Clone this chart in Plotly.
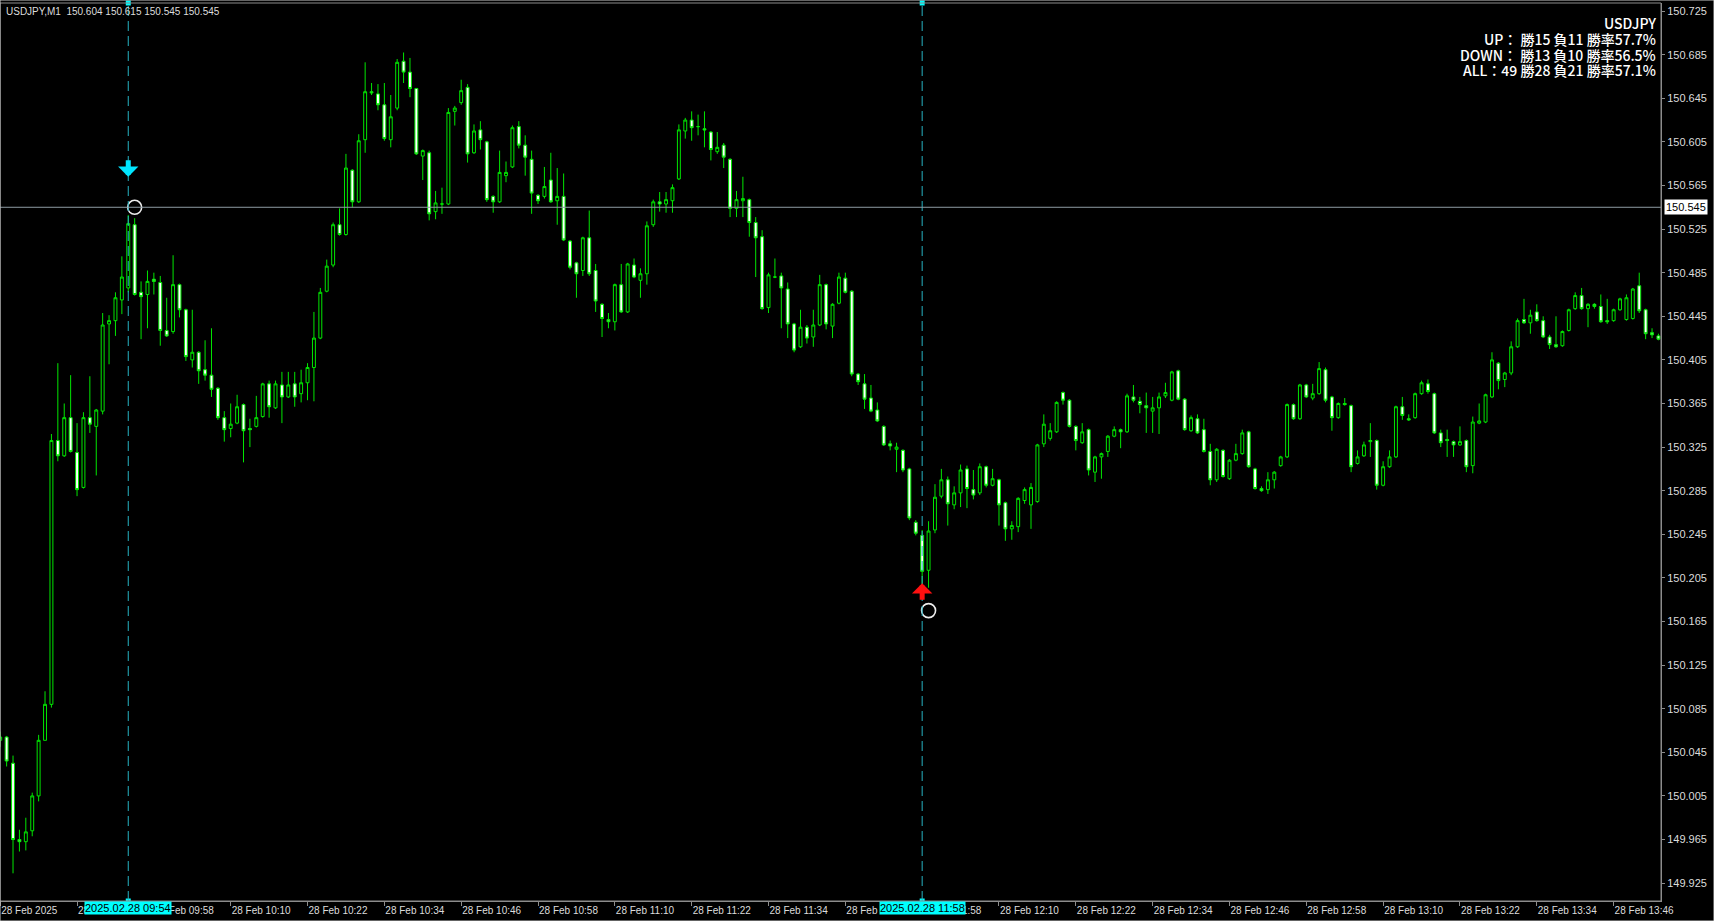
import pandas as pd
import plotly.graph_objects as go

# ---------------- data ----------------
symbol = "USDJPY"
timeframe = "M1"
start_time = "2025-02-28 09:34"
header_values = ["150.604", "150.615", "150.545", "150.545"]

open_ = [150.056, 150.059, 150.035, 149.965, 149.963, 149.973, 150.005, 150.056, 150.089, 150.331,
         150.317, 150.352, 150.320, 150.288, 150.352, 150.344, 150.358, 150.438, 150.441, 150.460,
         150.471, 150.529, 150.467, 150.465, 150.479, 150.476, 150.432, 150.431, 150.474, 150.451,
         150.405, 150.412, 150.396, 150.391, 150.379, 150.352, 150.342, 150.347, 150.364, 150.342,
         150.344, 150.353, 150.383, 150.361, 150.382, 150.371, 150.383, 150.374, 150.384, 150.398,
         150.425, 150.468, 150.492, 150.529, 150.520, 150.579, 150.550, 150.607, 150.651, 150.649,
         150.639, 150.607, 150.636, 150.679, 150.669, 150.654, 150.592, 150.595, 150.541, 150.548,
         150.548, 150.633, 150.641, 150.655, 150.595, 150.616, 150.605, 150.555, 150.550, 150.574,
         150.582, 150.619, 150.602, 150.589, 150.556, 150.555, 150.570, 150.551, 150.555, 150.514,
         150.494, 150.487, 150.517, 150.487, 150.456, 150.442, 150.440, 150.474, 150.449, 150.492,
         150.478, 150.484, 150.529, 150.550, 150.548, 150.551, 150.571, 150.615, 150.625, 150.619,
         150.617, 150.614, 150.596, 150.602, 150.589, 150.544, 150.551, 150.552, 150.531, 150.518,
         150.453, 150.481, 150.482, 150.470, 150.438, 150.417, 150.435, 150.426, 150.437, 150.474,
         150.436, 150.457, 150.480, 150.468, 150.392, 150.383, 150.370, 150.359, 150.344, 150.328,
         150.323, 150.322, 150.305, 150.256, 150.244, 150.212, 150.249, 150.280, 150.295, 150.272,
         150.283, 150.305, 150.286, 150.283, 150.307, 150.290, 150.295, 150.274, 150.250, 150.252,
         150.276, 150.272, 150.275, 150.328, 150.333, 150.339, 150.375, 150.368, 150.344, 150.329,
         150.341, 150.302, 150.316, 150.321, 150.335, 150.341, 150.339, 150.371, 150.367, 150.363,
         150.358, 150.361, 150.372, 150.368, 150.395, 150.369, 150.340, 150.351, 150.341, 150.321,
         150.295, 150.322, 150.296, 150.313, 150.319, 150.339, 150.305, 150.287, 150.286, 150.295,
         150.308, 150.316, 150.364, 150.351, 150.382, 150.370, 150.374, 150.396, 150.371, 150.352,
         150.365, 150.363, 150.310, 150.317, 150.330, 150.331, 150.290, 150.307, 150.316, 150.362,
         150.351, 150.352, 150.374, 150.383, 150.374, 150.338, 150.332, 150.330, 150.327, 150.331,
         150.308, 150.347, 150.348, 150.371, 150.402, 150.387, 150.393, 150.417, 150.442, 150.439,
         150.449, 150.441, 150.426, 150.419, 150.418, 150.432, 150.452, 150.464, 150.452, 150.456,
         150.454, 150.441, 150.441, 150.451, 150.442, 150.443, 150.473, 150.451, 150.430, 150.427]

high = [150.064, 150.060, 150.042, 149.974, 149.985, 150.008, 150.061, 150.101, 150.337, 150.402,
        150.365, 150.391, 150.347, 150.357, 150.390, 150.360, 150.448, 150.446, 150.467, 150.500,
        150.538, 150.535, 150.477, 150.487, 150.485, 150.482, 150.462, 150.501, 150.475, 150.452,
        150.451, 150.413, 150.423, 150.434, 150.380, 150.358, 150.365, 150.373, 150.365, 150.351,
        150.372, 150.384, 150.386, 150.386, 150.394, 150.394, 150.394, 150.396, 150.402, 150.449,
        150.471, 150.497, 150.531, 150.544, 150.594, 150.580, 150.612, 150.678, 150.659, 150.658,
        150.659, 150.648, 150.681, 150.687, 150.682, 150.654, 150.598, 150.597, 150.560, 150.563,
        150.636, 150.638, 150.662, 150.658, 150.621, 150.624, 150.606, 150.556, 150.597, 150.587,
        150.620, 150.624, 150.611, 150.597, 150.557, 150.582, 150.595, 150.581, 150.576, 150.515,
        150.495, 150.518, 150.542, 150.493, 150.457, 150.448, 150.475, 150.493, 150.494, 150.498,
        150.489, 150.532, 150.552, 150.559, 150.559, 150.566, 150.621, 150.627, 150.633, 150.630,
        150.633, 150.615, 150.614, 150.604, 150.590, 150.560, 150.573, 150.553, 150.536, 150.524,
        150.485, 150.498, 150.485, 150.476, 150.439, 150.451, 150.437, 150.451, 150.483, 150.475,
        150.457, 150.485, 150.485, 150.469, 150.393, 150.392, 150.382, 150.366, 150.345, 150.331,
        150.329, 150.323, 150.306, 150.258, 150.249, 150.257, 150.291, 150.305, 150.298, 150.289,
        150.309, 150.308, 150.304, 150.310, 150.308, 150.305, 150.296, 150.275, 150.257, 150.279,
        150.288, 150.292, 150.328, 150.355, 150.347, 150.367, 150.376, 150.369, 150.345, 150.347,
        150.342, 150.317, 150.320, 150.336, 150.344, 150.342, 150.374, 150.382, 150.371, 150.375,
        150.371, 150.375, 150.384, 150.395, 150.396, 150.370, 150.354, 150.355, 150.351, 150.328,
        150.324, 150.323, 150.314, 150.328, 150.341, 150.340, 150.306, 150.289, 150.302, 150.303,
        150.317, 150.365, 150.365, 150.383, 150.383, 150.383, 150.403, 150.398, 150.372, 150.366,
        150.370, 150.364, 150.322, 150.330, 150.347, 150.332, 150.312, 150.322, 150.363, 150.371,
        150.355, 150.375, 150.386, 150.387, 150.375, 150.341, 150.341, 150.331, 150.344, 150.332,
        150.353, 150.365, 150.374, 150.412, 150.403, 150.394, 150.422, 150.443, 150.461, 150.451,
        150.456, 150.445, 150.428, 150.445, 150.432, 150.452, 150.467, 150.471, 150.457, 150.457,
        150.465, 150.461, 150.452, 150.462, 150.465, 150.471, 150.485, 150.452, 150.434, 150.429]

low = [150.050, 150.032, 149.934, 149.954, 149.955, 149.968, 150.000, 150.056, 150.086, 150.312,
       150.316, 150.320, 150.280, 150.287, 150.338, 150.299, 150.355, 150.401, 150.427, 150.447,
       150.467, 150.464, 150.424, 150.434, 150.465, 150.418, 150.426, 150.429, 150.444, 150.404,
       150.398, 150.383, 150.386, 150.371, 150.350, 150.330, 150.334, 150.346, 150.311, 150.325,
       150.343, 150.352, 150.352, 150.360, 150.347, 150.370, 150.362, 150.366, 150.368, 150.367,
       150.424, 150.467, 150.490, 150.519, 150.519, 150.545, 150.549, 150.595, 150.648, 150.634,
       150.606, 150.600, 150.634, 150.659, 150.646, 150.593, 150.570, 150.533, 150.534, 150.539,
       150.547, 150.620, 150.639, 150.586, 150.594, 150.598, 150.550, 150.540, 150.549, 150.568,
       150.581, 150.599, 150.574, 150.539, 150.548, 150.553, 150.549, 150.529, 150.514, 150.488,
       150.462, 150.482, 150.482, 150.449, 150.426, 150.434, 150.432, 150.448, 150.448, 150.480,
       150.462, 150.474, 150.527, 150.541, 150.540, 150.540, 150.570, 150.608, 150.606, 150.611,
       150.600, 150.588, 150.594, 150.581, 150.536, 150.536, 150.536, 150.518, 150.481, 150.451,
       150.448, 150.480, 150.434, 150.425, 150.412, 150.416, 150.420, 150.417, 150.436, 150.433,
       150.425, 150.456, 150.466, 150.390, 150.382, 150.360, 150.357, 150.348, 150.326, 150.322,
       150.302, 150.302, 150.258, 150.244, 150.198, 150.196, 150.246, 150.278, 150.253, 150.268,
       150.270, 150.269, 150.277, 150.281, 150.288, 150.289, 150.253, 150.239, 150.240, 150.247,
       150.273, 150.250, 150.274, 150.325, 150.331, 150.338, 150.364, 150.343, 150.322, 150.328,
       150.299, 150.293, 150.296, 150.316, 150.334, 150.324, 150.338, 150.366, 150.356, 150.338,
       150.338, 150.337, 150.370, 150.367, 150.368, 150.340, 150.339, 150.337, 150.320, 150.290,
       150.293, 150.297, 150.295, 150.312, 150.318, 150.306, 150.286, 150.284, 150.282, 150.287,
       150.307, 150.315, 150.350, 150.350, 150.370, 150.368, 150.373, 150.366, 150.340, 150.351,
       150.363, 150.302, 150.309, 150.316, 150.316, 150.286, 150.289, 150.306, 150.315, 150.350,
       150.349, 150.351, 150.373, 150.374, 150.337, 150.325, 150.316, 150.316, 150.326, 150.302,
       150.301, 150.346, 150.347, 150.370, 150.378, 150.380, 150.391, 150.416, 150.438, 150.429,
       150.440, 150.425, 150.415, 150.416, 150.417, 150.431, 150.451, 150.451, 150.435, 150.452,
       150.439, 150.438, 150.440, 150.450, 150.441, 150.442, 150.448, 150.424, 150.425, 150.423]

close = [150.059, 150.037, 149.965, 149.963, 149.972, 150.005, 150.056, 150.089, 150.331, 150.317,
         150.352, 150.321, 150.286, 150.352, 150.346, 150.359, 150.437, 150.441, 150.462, 150.481,
         150.530, 150.465, 150.463, 150.477, 150.477, 150.432, 150.427, 150.474, 150.451, 150.408,
         150.412, 150.395, 150.391, 150.378, 150.352, 150.341, 150.346, 150.362, 150.340, 150.341,
         150.352, 150.383, 150.362, 150.383, 150.371, 150.382, 150.371, 150.384, 150.398, 150.425,
         150.467, 150.491, 150.529, 150.520, 150.581, 150.550, 150.606, 150.651, 150.650, 150.639,
         150.608, 150.628, 150.678, 150.669, 150.654, 150.594, 150.597, 150.539, 150.549, 150.548,
         150.632, 150.636, 150.652, 150.594, 150.615, 150.607, 150.552, 150.550, 150.577, 150.577,
         150.618, 150.602, 150.591, 150.558, 150.551, 150.564, 150.550, 150.555, 150.515, 150.490,
         150.484, 150.517, 150.484, 150.459, 150.443, 150.440, 150.474, 150.449, 150.493, 150.481,
         150.484, 150.528, 150.550, 150.548, 150.552, 150.563, 150.616, 150.625, 150.618, 150.619,
         150.616, 150.598, 150.600, 150.591, 150.544, 150.552, 150.553, 150.531, 150.517, 150.452,
         150.483, 150.481, 150.471, 150.438, 150.414, 150.435, 150.425, 150.437, 150.474, 150.438,
         150.456, 150.481, 150.467, 150.392, 150.385, 150.369, 150.358, 150.349, 150.327, 150.326,
         150.325, 150.304, 150.260, 150.246, 150.211, 150.248, 150.279, 150.295, 150.273, 150.283,
         150.304, 150.287, 150.281, 150.307, 150.290, 150.296, 150.272, 150.250, 150.253, 150.278,
         150.286, 150.288, 150.327, 150.346, 150.340, 150.366, 150.368, 150.344, 150.331, 150.339,
         150.304, 150.316, 150.319, 150.335, 150.341, 150.339, 150.372, 150.368, 150.364, 150.361,
         150.361, 150.371, 150.375, 150.394, 150.369, 150.341, 150.352, 150.338, 150.321, 150.295,
         150.323, 150.298, 150.313, 150.319, 150.338, 150.307, 150.287, 150.285, 150.295, 150.302,
         150.316, 150.364, 150.351, 150.382, 150.371, 150.374, 150.397, 150.368, 150.352, 150.365,
         150.364, 150.307, 150.316, 150.327, 150.331, 150.290, 150.307, 150.316, 150.362, 150.354,
         150.350, 150.374, 150.384, 150.376, 150.338, 150.329, 150.331, 150.327, 150.330, 150.307,
         150.348, 150.349, 150.373, 150.405, 150.386, 150.393, 150.417, 150.441, 150.439, 150.446,
         150.441, 150.426, 150.419, 150.417, 150.431, 150.451, 150.464, 150.452, 150.456, 150.454,
         150.440, 150.440, 150.451, 150.461, 150.462, 150.470, 150.450, 150.429, 150.428, 150.424]

# price axis labels
y_tick_values = [150.725, 150.685, 150.645, 150.605, 150.565, 150.525, 150.485, 150.445,
                 150.405, 150.365, 150.325, 150.285, 150.245, 150.205, 150.165, 150.125,
                 150.085, 150.045, 150.005, 149.965, 149.925]

# time axis labels (every 12 bars)
x_tick_times = ["2025-02-28 09:34", "2025-02-28 09:46", "2025-02-28 09:58", "2025-02-28 10:10",
                "2025-02-28 10:22", "2025-02-28 10:34", "2025-02-28 10:46", "2025-02-28 10:58",
                "2025-02-28 11:10", "2025-02-28 11:22", "2025-02-28 11:34", "2025-02-28 11:46",
                "2025-02-28 11:58", "2025-02-28 12:10", "2025-02-28 12:22", "2025-02-28 12:34",
                "2025-02-28 12:46", "2025-02-28 12:58", "2025-02-28 13:10", "2025-02-28 13:22",
                "2025-02-28 13:34", "2025-02-28 13:46"]
x_tick_text = ["28 Feb 2025", "28 Feb 09:46", "28 Feb 09:58", "28 Feb 10:10", "28 Feb 10:22",
               "28 Feb 10:34", "28 Feb 10:46", "28 Feb 10:58", "28 Feb 11:10", "28 Feb 11:22",
               "28 Feb 11:34", "28 Feb 11:46", "28 Feb 11:58", "28 Feb 12:10", "28 Feb 12:22",
               "28 Feb 12:34", "28 Feb 12:46", "28 Feb 12:58", "28 Feb 13:10", "28 Feb 13:22",
               "28 Feb 13:34", "28 Feb 13:46"]

# signals
signal_times = ["2025-02-28 09:54", "2025-02-28 11:58"]
signal_labels = ["2025.02.28 09:54", "2025.02.28 11:58"]
down_arrow_time, down_arrow_tip = "2025-02-28 09:54", 150.573
up_arrow_time, up_arrow_tip = "2025-02-28 11:58", 150.200
circle_times = ["2025-02-28 09:55", "2025-02-28 11:59"]
circle_prices = [150.545, 150.175]
hline_price = 150.545

stats_lines = ["USDJPY",
               "UP： 勝15 負11 勝率57.7%",
               "DOWN： 勝13 負10 勝率56.5%",
               "ALL：49 勝28 負21 勝率57.1%"]

# ---------------- figure ----------------
W, H = 1714, 921
times = pd.date_range(start_time, periods=len(open_), freq="min")
x_range = [times[0] - pd.Timedelta(seconds=2), times[0] + pd.Timedelta(seconds=259.4 * 60)]
y_range = [149.9086, 150.7324]

GREEN = "#00E600"
TXT = "#dcdcdc"
AX = "#8c8c8c"
CYAN_LINE = "#26B2C2"
FONT = "Liberation Sans"

fig = go.Figure()
fig.add_trace(go.Candlestick(
    x=times, open=open_, high=high, low=low, close=close,
    increasing=dict(line=dict(color=GREEN, width=1), fillcolor="#000000"),
    decreasing=dict(line=dict(color=GREEN, width=1), fillcolor="#FFFFFF"),
    whiskerwidth=0, hoverinfo="skip", showlegend=False))

fig.add_trace(go.Scatter(x=circle_times, y=circle_prices, mode="markers",
                         marker=dict(symbol="circle-open", size=14, color="#EDEDED",
                                     line=dict(width=1.6, color="#EDEDED")),
                         hoverinfo="skip", showlegend=False))
# small selection squares at ends of vertical lines
fig.add_trace(go.Scatter(x=signal_times + signal_times,
                         y=[y_range[1]] * 2 + [y_range[0]] * 2, mode="markers",
                         marker=dict(symbol="square", size=5, color="#00FFFF"),
                         cliponaxis=False, hoverinfo="skip", showlegend=False))

shapes = []
for t in signal_times:
    shapes.append(dict(type="line", xref="x", yref="y domain", x0=t, x1=t, y0=0, y1=1,
                       line=dict(color=CYAN_LINE, width=1, dash="10px,5px"), layer="above"))
shapes.append(dict(type="line", xref="x domain", yref="y", x0=0, x1=1, y0=hline_price,
                   y1=hline_price, line=dict(color="#8E9BA3", width=1), layer="above"))
shapes.append(dict(type="rect", xref="x domain", yref="y domain", x0=0, x1=1, y0=0, y1=1,
                   line=dict(color=AX, width=1), layer="above"))
shapes.append(dict(type="rect", xref="paper", yref="paper", x0=0, x1=1, y0=0, y1=1,
                   line=dict(color="#c8c8c8", width=1), layer="above"))

annotations = []
# signal arrows (tip at the data point, stem drawn with pixel offset)
annotations.append(dict(xref="x", yref="y", x=down_arrow_time, y=down_arrow_tip, text="",
                        showarrow=True, arrowhead=1, arrowsize=0.68, arrowwidth=5,
                        arrowcolor="#00E5FF", ax=0, ay=-18, standoff=0))
annotations.append(dict(xref="x", yref="y", x=up_arrow_time, y=up_arrow_tip, text="",
                        showarrow=True, arrowhead=1, arrowsize=0.68, arrowwidth=5,
                        arrowcolor="#FF1010", ax=0, ay=18, standoff=0))
annotations.append(dict(xref="paper", yref="paper", x=4 / W, y=1 - 11 / H, xanchor="left",
                        yanchor="middle", showarrow=False,
                        text=f"{symbol},{timeframe}  " + " ".join(header_values),
                        font=dict(family=FONT, size=10, color=TXT)))
for i, line in enumerate(stats_lines):
    annotations.append(dict(xref="paper", yref="paper", x=1658 / W, y=1 - (23 + 15.8 * i) / H,
                            xanchor="right", yanchor="middle", showarrow=False, text=line,
                            font=dict(family="Noto Sans CJK JP", size=14, color="#FFFFFF",
                                      weight=500)))
for t, lab in zip(signal_times, signal_labels):
    annotations.append(dict(xref="x", yref="paper", x=t, y=1 - 908 / H, xanchor="center",
                            yanchor="middle", showarrow=False, text=lab, bgcolor="#00FFFF",
                            borderpad=0, font=dict(family=FONT, size=11, color="#000000")))
annotations.append(dict(xref="paper", yref="y", x=1664 / W, y=hline_price, xanchor="left",
                        yanchor="middle", showarrow=False, text=f"{hline_price:.3f}",
                        bgcolor="#FFFFFF", borderpad=1,
                        font=dict(family=FONT, size=11, color="#000000")))

fig.update_layout(
    width=W, height=H, autosize=False,
    margin=dict(l=0, r=0, t=0, b=0),
    paper_bgcolor="#000000", plot_bgcolor="#000000",
    font=dict(family=FONT, size=10, color=TXT),
    showlegend=False, boxgap=0.35, hovermode=False,
    shapes=shapes, annotations=annotations,
    xaxis=dict(domain=[0, 1661 / W], range=x_range, type="date",
               rangeslider=dict(visible=False), showgrid=False, zeroline=False,
               showline=True, linecolor=AX, ticks="outside", ticklen=4, tickcolor=AX,
               tickvals=x_tick_times, ticktext=x_tick_text, ticklabelposition="outside right",
               tickfont=dict(family=FONT, size=10, color=TXT), automargin=False,
               fixedrange=True),
    yaxis=dict(domain=[20 / H, 1 - 3 / H], range=y_range, side="right", showgrid=False,
               zeroline=False, showline=True, linecolor=AX, ticks="outside", ticklen=3,
               tickcolor=AX, tickvals=y_tick_values,
               ticktext=[f"{v:.3f}" for v in y_tick_values],
               tickfont=dict(family=FONT, size=11, color=TXT), automargin=False,
               fixedrange=True),
)

fig.write_html("out.html", config={"displayModeBar": False},
               post_script="document.body.style.margin='0';document.body.style.overflow='hidden';")
